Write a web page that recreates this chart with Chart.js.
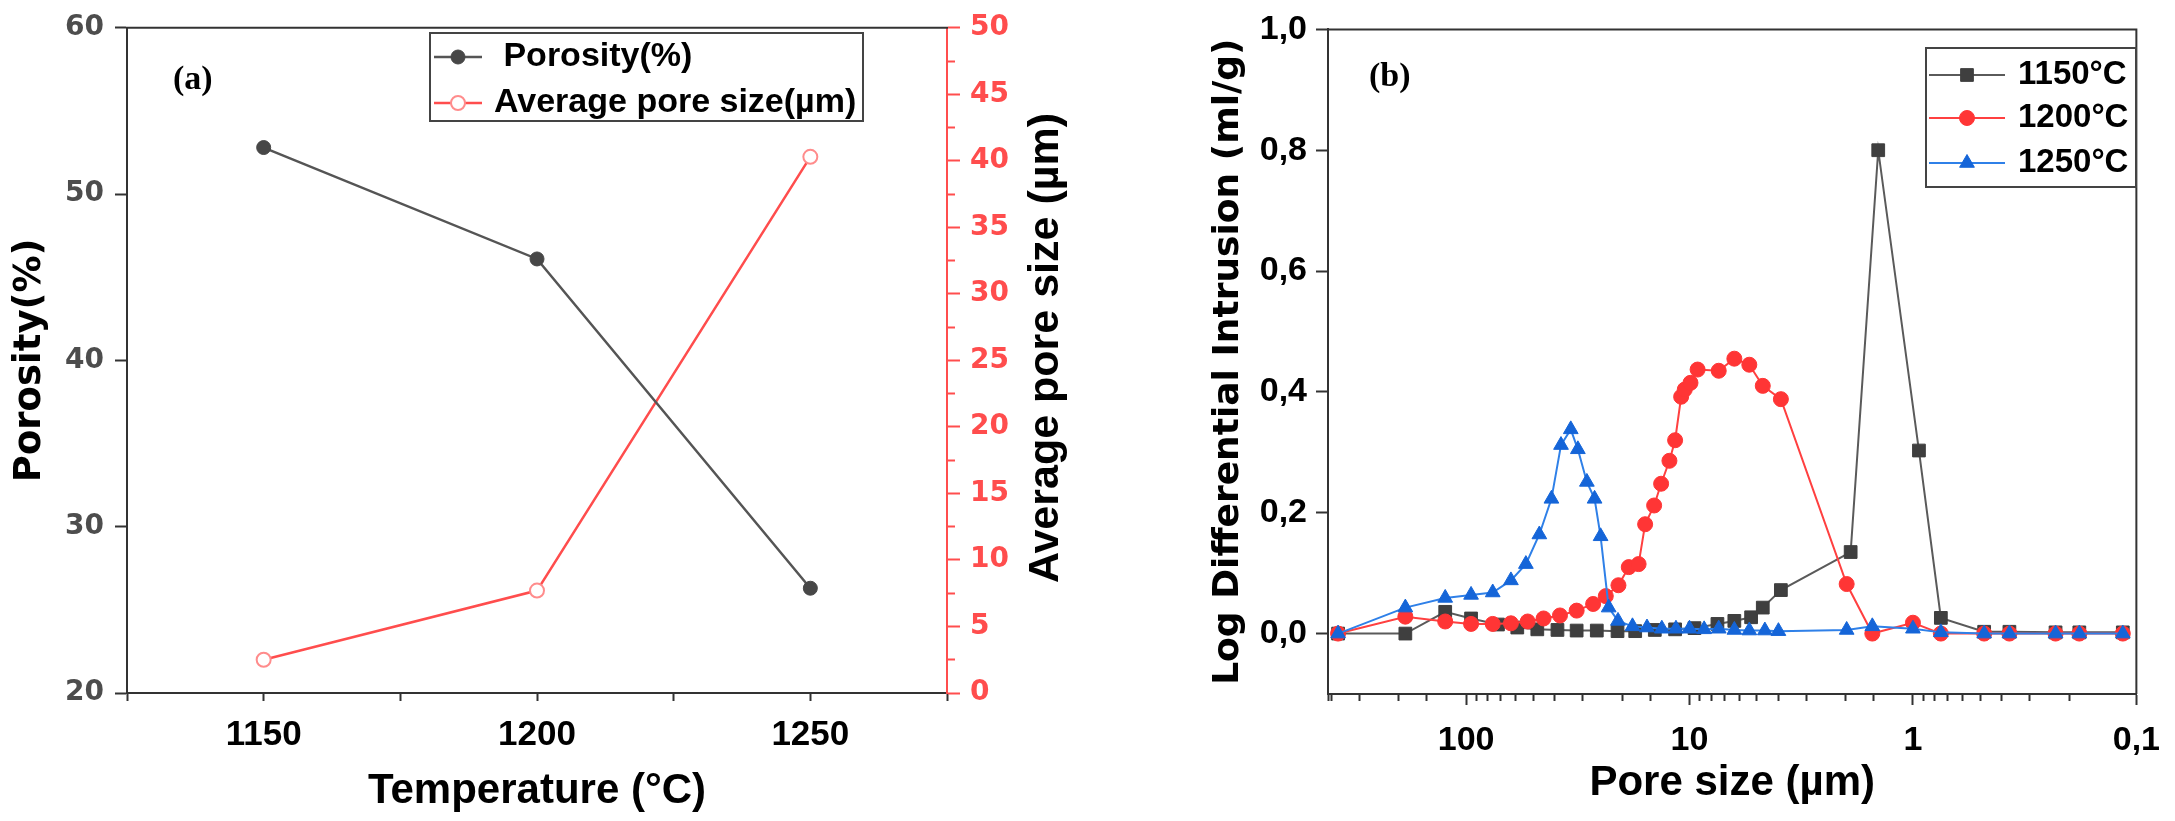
<!DOCTYPE html>
<html>
<head>
<meta charset="utf-8">
<script src="https://cdn.jsdelivr.net/npm/chart.js@4.4.0/dist/chart.umd.min.js"></script>
<style>
  html, body { margin: 0; padding: 0; background: #fff; }
  body { width: 2175px; height: 821px; position: relative; overflow: hidden; }
  .panel { position: absolute; top: 0; height: 821px; }
  #wrapA { left: 0; width: 1076px; }
  #wrapB { left: 1203px; width: 972px; }
</style>
</head>
<body>
<div class="panel" id="wrapA"><canvas id="chartA"></canvas></div>
<div class="panel" id="wrapB"><canvas id="chartB"></canvas></div>
<script>
// (a) porosity and average pore size vs sintering temperature
const temperatures = [1150, 1200, 1250];
const porosity = [52.8, 46.1, 26.3];
const avgPoreSize = [2.5, 7.7, 40.3];

// (b) pore size distribution, pore size in µm
const pore1150 = [374, 187, 124, 95, 72, 59, 48, 39, 32, 26, 21, 17.5, 14.3, 11.6, 9.5, 7.5, 6.3, 5.3, 4.7, 3.9, 1.9, 1.43, 0.94, 0.75, 0.48, 0.37, 0.23, 0.18, 0.115];
const intr1150 = [0, 0, 0.036, 0.025, 0.015, 0.010, 0.007, 0.006, 0.005, 0.005, 0.004, 0.004, 0.006, 0.007, 0.009, 0.016, 0.021, 0.027, 0.043, 0.072, 0.135, 0.80, 0.303, 0.026, 0.003, 0.003, 0.002, 0.002, 0.002];

const pore1200 = [374, 187, 124, 95, 76, 63, 53, 45, 38, 32, 27, 23.7, 20.8, 18.7, 16.9, 15.8, 14.4, 13.4, 12.3, 11.6, 10.9, 10.5, 9.9, 9.2, 7.4, 6.3, 5.4, 4.7, 3.9, 1.98, 1.52, 1.0, 0.75, 0.48, 0.37, 0.23, 0.18, 0.115];
const intr1200 = [0, 0.028, 0.02, 0.016, 0.016, 0.017, 0.02, 0.025, 0.03, 0.038, 0.049, 0.062, 0.08, 0.11, 0.115, 0.181, 0.212, 0.248, 0.286, 0.32, 0.392, 0.404, 0.415, 0.437, 0.435, 0.455, 0.445, 0.41, 0.388, 0.082, 0, 0.018, 0, 0, 0, 0, 0, 0];

const pore1250 = [374, 187, 124, 95, 76, 63, 54, 47, 41.5, 37.6, 34, 31.6, 28.8, 26.6, 25, 23, 20.9, 18, 15.5, 13.3, 11.5, 10, 8.6, 7.4, 6.3, 5.4, 4.6, 4.0, 1.98, 1.52, 1.0, 0.75, 0.48, 0.37, 0.23, 0.18, 0.115];
const intr1250 = [0, 0.043, 0.059, 0.064, 0.068, 0.088, 0.115, 0.164, 0.223, 0.312, 0.338, 0.305, 0.251, 0.223, 0.161, 0.043, 0.021, 0.012, 0.01, 0.008, 0.008, 0.008, 0.007, 0.008, 0.006, 0.005, 0.005, 0.004, 0.006, 0.012, 0.008, 0.002, 0, 0, 0, 0, 0];

function pairs(xs, ys) {
	return xs.map((x, i) => ({ x: x, y: ys[i] }));
}

Chart.defaults.font.family = "'Liberation Sans', Arial, sans-serif";
Chart.defaults.font.weight = "bold";
Chart.defaults.color = "#000";

const AXIS = "#333";
const RED = "#ff4d4d";

// shorter tick marks for minor ticks (dash keeps only part of the tick line)
function minorDash(isMajor, len) {
	return (c) => (isMajor(c.tick ? c.tick.value : 0) ? [] : [len, 200]);
}
function minorOffset(isMajor, tl, len) {
	// left axis ticks are drawn from the outside in, so shift the dash to the axis side
	return (c) => (isMajor(c.tick ? c.tick.value : 0) ? 0 : 200 + len - tl);
}

function drawMarker(ctx, style, x, y, r, fill, stroke, bw) {
	ctx.beginPath();
	if (style === "rect") {
		const s = r * Math.SQRT1_2;
		ctx.rect(x - s, y - s, 2 * s, 2 * s);
	} else if (style === "triangle") {
		for (let k = 0; k < 3; k++) {
			const a = (k * 2 * Math.PI) / 3;
			const px = x + Math.sin(a) * r;
			const py = y - Math.cos(a) * r;
			if (k === 0) ctx.moveTo(px, py);
			else ctx.lineTo(px, py);
		}
	} else {
		ctx.arc(x, y, r, 0, Math.PI * 2);
	}
	ctx.closePath();
	ctx.fillStyle = fill;
	ctx.fill();
	ctx.lineWidth = bw || 1;
	ctx.strokeStyle = stroke;
	ctx.stroke();
}

// frame lines, panel letter, boxed legend, rotated right title
const decor = {
	id: "decor",
	afterDraw(chart, args, o) {
		const ctx = chart.ctx;
		const a = chart.chartArea;
		ctx.save();
		ctx.strokeStyle = AXIS;
		ctx.lineWidth = 2;
		ctx.beginPath();
		ctx.moveTo(a.left - 1, a.top);
		ctx.lineTo(a.right + 1, a.top);
		if (o.rightLine) {
			ctx.moveTo(a.right, a.top);
			ctx.lineTo(a.right, a.bottom);
		}
		ctx.stroke();

		ctx.fillStyle = "#000";
		ctx.font = "bold 34px 'Liberation Serif', 'Times New Roman', serif";
		ctx.textBaseline = "middle";
		ctx.textAlign = "left";
		ctx.fillText(o.letter[0], o.letter[1], o.letter[2]);

		const lg = o.legend;
		ctx.strokeStyle = "#444";
		ctx.lineWidth = 2;
		ctx.strokeRect(lg.x, lg.y, lg.w, lg.h);
		ctx.font = lg.font;
		chart.data.datasets.forEach((ds, i) => {
			const y = lg.rows[i];
			ctx.strokeStyle = ds.borderColor;
			ctx.lineWidth = ds.borderWidth;
			ctx.beginPath();
			ctx.moveTo(lg.line[0], y);
			ctx.lineTo(lg.line[1], y);
			ctx.stroke();
			drawMarker(ctx, ds.pointStyle, (lg.line[0] + lg.line[1]) / 2, y, ds.pointRadius,
				ds.pointBackgroundColor, ds.pointBorderColor, ds.pointBorderWidth);
			ctx.fillStyle = "#000";
			ctx.fillText(ds.label, lg.textX, y);
		});

		if (o.sideTitle) {
			const t = o.sideTitle;
			ctx.translate(t.x, t.y);
			ctx.rotate(-Math.PI / 2);
			ctx.textAlign = "center";
			ctx.font = t.font;
			ctx.fillStyle = "#000";
			ctx.fillText(t.text, 0, 0);
		}
		ctx.restore();
	},
};

// ---------- panel (a) ----------
const majorTemp = (v) => v % 50 === 0;
const majorPor = (v) => v % 10 === 0;
const majorSize = (v) => v % 5 === 0;

new Chart(document.getElementById("chartA"), {
	type: "line",
	data: {
		datasets: [
			{
				label: " Porosity(%)",
				data: pairs(temperatures, porosity),
				yAxisID: "y",
				borderColor: "#555",
				borderWidth: 2.5,
				pointStyle: "circle",
				pointRadius: 7,
				pointBackgroundColor: "#474747",
				pointBorderColor: "#474747",
				pointBorderWidth: 1,
				tension: 0,
			},
			{
				label: "Average pore size(µm)",
				data: pairs(temperatures, avgPoreSize),
				yAxisID: "y1",
				borderColor: RED,
				borderWidth: 2.5,
				pointStyle: "circle",
				pointRadius: 7,
				pointBackgroundColor: "#fff",
				pointBorderColor: "#ff8c8c",
				pointBorderWidth: 2,
				tension: 0,
			},
		],
	},
	options: {
		responsive: true,
		maintainAspectRatio: false,
		animation: false,
		layout: { padding: { top: 24 } },
		plugins: {
			legend: { display: false },
			tooltip: { enabled: false },
			decor: {
				letter: ["(a)", 173, 80],
				legend: { x: 430, y: 33, w: 433, h: 88, rows: [57, 103], line: [434, 482], textX: 494, font: "bold 34px 'Liberation Sans', Arial, sans-serif" },
				sideTitle: { text: "Average pore size (µm)", x: 1046, y: 348, font: "bold 43px 'Liberation Sans', Arial, sans-serif" },
			},
		},
		scales: {
			x: {
				type: "linear",
				min: 1125,
				max: 1275,
				afterFit: (s) => { s.height = 128; },
				ticks: {
					stepSize: 25,
					autoSkip: false,
					maxRotation: 0,
					padding: 13,
					font: { size: 35 },
					callback: (v) => (majorTemp(v) ? v : ""),
				},
				grid: {
					drawOnChartArea: false,
					tickLength: 8,
					tickWidth: 2,
					tickColor: AXIS,
					tickBorderDash: minorDash(majorTemp, 8),
				},
				border: { color: AXIS, width: 2 },
				title: { display: true, text: "Temperature (°C)", font: { size: 42 }, padding: { top: 0, bottom: 4 } },
			},
			y: {
				position: "left",
				min: 20,
				max: 60,
				afterFit: (s) => { s.width = 127; },
				ticks: {
					stepSize: 5,
					autoSkip: false,
					padding: 11,
					color: "#4d4d4d",
					font: { family: "'DejaVu Sans', sans-serif", size: 28 },
					callback: (v) => (majorPor(v) ? v : ""),
				},
				grid: {
					drawOnChartArea: false,
					tickLength: 12,
					tickWidth: 2,
					tickColor: AXIS,
					tickBorderDash: minorDash(majorPor, 6),
					tickBorderDashOffset: minorOffset(majorPor, 12, 6),
				},
				border: { color: AXIS, width: 2 },
				title: { display: true, text: "Porosity(%)", font: { family: "'DejaVu Sans', sans-serif", size: 37 }, padding: { top: 8, bottom: 0 } },
			},
			y1: {
				position: "right",
				min: 0,
				max: 50,
				afterFit: (s) => { s.width = 129; },
				ticks: {
					stepSize: 2.5,
					autoSkip: false,
					padding: 10,
					color: RED,
					font: { family: "'DejaVu Sans', sans-serif", size: 28 },
					callback: (v) => (majorSize(v) ? v : ""),
				},
				grid: {
					drawOnChartArea: false,
					tickLength: 13,
					tickWidth: 2,
					tickColor: RED,
					tickBorderDash: minorDash(majorSize, 7),
				},
				border: { color: RED, width: 2 },
			},
		},
	},
	plugins: [decor],
});

// ---------- panel (b) ----------
const majorLog = (v) => {
	const l = Math.log10(v);
	return Math.abs(l - Math.round(l)) < 1e-6;
};
const majorIntr = (v) => Math.round(v * 10) % 2 === 0;

new Chart(document.getElementById("chartB"), {
	type: "line",
	data: {
		datasets: [
			{
				label: "1150°C",
				data: pairs(pore1150, intr1150),
				order: 3,
				borderColor: "#5a5a5a",
				borderWidth: 2,
				pointStyle: "rect",
				pointRadius: 9,
				pointBackgroundColor: "#3f3f3f",
				pointBorderColor: "#3f3f3f",
				pointBorderWidth: 1,
				tension: 0,
			},
			{
				label: "1200°C",
				data: pairs(pore1200, intr1200),
				order: 2,
				borderColor: "#ff4040",
				borderWidth: 2,
				pointStyle: "circle",
				pointRadius: 7.5,
				pointBackgroundColor: "#ff3535",
				pointBorderColor: "#ff3535",
				pointBorderWidth: 1,
				tension: 0,
			},
			{
				label: "1250°C",
				data: pairs(pore1250, intr1250),
				order: 1,
				borderColor: "#2f80e8",
				borderWidth: 2,
				pointStyle: "triangle",
				pointRadius: 8.5,
				pointBackgroundColor: "#1565d8",
				pointBorderColor: "#1565d8",
				pointBorderWidth: 1,
				tension: 0,
			},
		],
	},
	options: {
		responsive: true,
		maintainAspectRatio: false,
		animation: false,
		layout: { padding: { top: 24, right: 20 } },
		plugins: {
			legend: { display: false },
			tooltip: { enabled: false },
			decor: {
				rightLine: true,
				letter: ["(b)", 166, 77],
				legend: { x: 723, y: 48, w: 210, h: 139, rows: [75, 118, 163], line: [726, 802], textX: 815, font: "bold 33px 'Liberation Sans', Arial, sans-serif" },
			},
		},
		scales: {
			x: {
				type: "logarithmic",
				min: 0.1,
				max: 415,
				reverse: true,
				afterFit: (s) => { s.height = 127; },
				ticks: {
					autoSkip: false,
					maxRotation: 0,
					padding: 15,
					font: { size: 34 },
					callback: (v) => (majorLog(v) ? String(v).replace(".", ",") : ""),
				},
				grid: {
					drawOnChartArea: false,
					tickLength: 11,
					tickWidth: 2,
					tickColor: AXIS,
					tickBorderDash: minorDash(majorLog, 6),
				},
				border: { color: AXIS, width: 2 },
				title: { display: true, text: "Pore size (µm)", font: { size: 42 }, padding: { top: 0, bottom: 12 } },
			},
			y: {
				min: -0.1,
				max: 1.0,
				afterFit: (s) => { s.width = 125; },
				ticks: {
					stepSize: 0.1,
					autoSkip: false,
					padding: 9,
					font: { size: 34 },
					callback: (v) => {
						const t = Math.round(v * 10);
						return t >= 0 && t % 2 === 0 ? (t / 10).toFixed(1).replace(".", ",") : "";
					},
				},
				grid: {
					drawOnChartArea: false,
					tickLength: 12,
					tickWidth: 2,
					tickColor: AXIS,
					tickBorderDash: minorDash(majorIntr, 6),
					tickBorderDashOffset: minorOffset(majorIntr, 12, 6),
				},
				border: { color: AXIS, width: 2 },
				title: { display: true, text: "Log Differential Intrusion (ml/g)", font: { family: "'DejaVu Sans', sans-serif", size: 36 }, padding: { top: 4, bottom: 0 } },
			},
		},
	},
	plugins: [decor],
});
</script>
</body>
</html>
